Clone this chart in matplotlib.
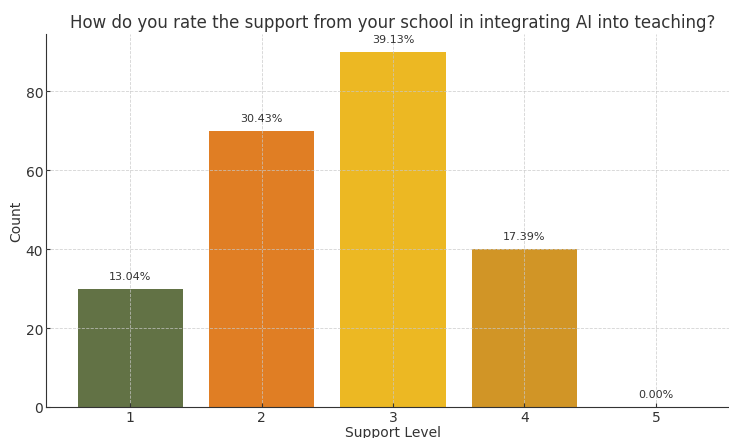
import matplotlib.pyplot as plt

# survey responses
levels = [1, 2, 3, 4, 5]
counts = [30, 70, 90, 40, 0]
colors = ["#627245", "#e07e24", "#ecb823", "#d19526", "#8c8c8c"]

total = sum(counts)
percents = [c / total * 100 for c in counts]

fig = plt.figure(figsize=(7.29, 4.39), dpi=100)
# axes run a little past the right edge of the canvas
ax = fig.add_axes([46 / 729, 31 / 439, 694 / 729, 373 / 439])

bars = ax.bar(levels, counts, color=colors, width=0.8, zorder=2)

# grid on top of bars
ax.set_axisbelow(False)
ax.grid(True, linestyle="--", linewidth=0.6, color="#c8c8c8", alpha=0.8)

for bar, pct in zip(bars, percents):
    ax.text(
        bar.get_x() + bar.get_width() / 2,
        bar.get_height() + 2,
        f"{pct:.2f}%",
        ha="center",
        va="bottom",
        fontsize=8,
        color="#333333",
        zorder=3,
    )

ax.set_xlim(0.36, 5.64)
ax.set_ylim(0, 94.5)
ax.set_xticks(levels)
ax.set_yticks([0, 20, 40, 60, 80])

for side in ["top", "right"]:
    ax.spines[side].set_visible(False)
for side in ["left", "bottom"]:
    ax.spines[side].set_color("#333333")

ax.tick_params(axis="both", direction="in", length=3, labelsize=10, labelcolor="#333333", color="#333333")
ax.tick_params(axis="x", pad=2)
ax.tick_params(axis="y", pad=2)
ax.set_xlabel("Support Level", fontsize=10, color="#333333", labelpad=1)
ax.set_ylabel("Count", fontsize=10, color="#333333", labelpad=2)
ax.set_title("How do you rate the support from your school in integrating AI into teaching?",
             fontsize=12, color="#333333", pad=5)

plt.savefig("out.png", dpi=100)
